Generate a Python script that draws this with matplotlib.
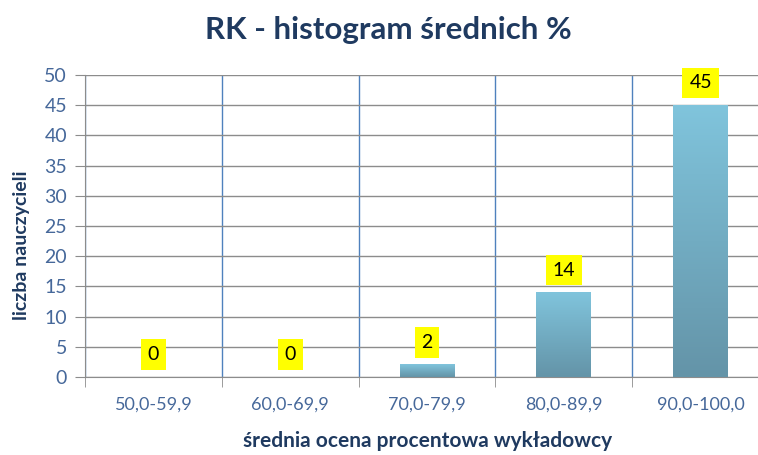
import numpy as np
import matplotlib.pyplot as plt
from matplotlib.colors import LinearSegmentedColormap

kategorie = ["50,0-59,9", "60,0-69,9", "70,0-79,9", "80,0-89,9", "90,0-100,0"]
liczby = [0, 0, 2, 14, 45]

plt.rcParams['font.family'] = ['Lato', 'DejaVu Sans']

fig = plt.figure(figsize=(7.58, 4.55), dpi=100)
ax = fig.add_axes([85/758, 1-377/455, (769-85)/758, (377-75)/455])

x = np.arange(len(kategorie))
szer = 0.4
cmap = LinearSegmentedColormap.from_list("grad", ["#6494a8", "#80c4dc"])
grad = np.linspace(0, 1, 100).reshape(-1, 1)
for xi, v in zip(x, liczby):
    if v > 0:
        ax.imshow(grad, cmap=cmap, origin='lower', aspect='auto',
                  extent=(xi-szer/2, xi+szer/2, 0, v), zorder=3)
    ax.text(xi, v+3.7, str(v), ha='center', va='center', fontsize=14, color='black',
            bbox=dict(boxstyle='square,pad=0.35', fc='#ffff00', ec='none'), zorder=4)

ax.set_xlim(-0.5, len(kategorie)-0.5)
ax.set_ylim(0, 50)
ax.set_yticks(range(0, 51, 5))
ax.set_xticks(x)
ax.set_xticklabels(kategorie)
ax.set_xticks(np.arange(-0.5, len(kategorie)), minor=True)

ax.grid(axis='y', color='#8c8c8c', lw=1, zorder=0)
ax.grid(axis='x', which='minor', color='#4f81bd', lw=1, zorder=1)
ax.tick_params(axis='x', which='major', length=0, pad=14, labelsize=13, labelcolor='#46689a')
ax.tick_params(axis='x', which='minor', length=7, color='#8c8c8c')
ax.tick_params(axis='y', length=7, color='#8c8c8c', labelsize=14, labelcolor='#46689a', pad=6)
for s in ['top', 'right']:
    ax.spines[s].set_visible(False)
ax.spines['left'].set_color('#8c8c8c')
ax.spines['bottom'].set_color('#8c8c8c')

fig.text(388/758, 1-30/455, "RK - histogram średnich %", ha='center', va='center',
         fontsize=22.5, fontweight='bold', color='#1f3a60')
fig.text(428/758, 1-441/455, "średnia ocena procentowa wykładowcy", ha='center', va='center',
         fontsize=15, fontweight='bold', color='#1f3a60')
fig.text(22/758, 1-245/455, "liczba nauczycieli", ha='center', va='center', rotation=90,
         fontsize=14, fontweight='bold', color='#1f3a60')

fig.savefig("out.png", dpi=100)
